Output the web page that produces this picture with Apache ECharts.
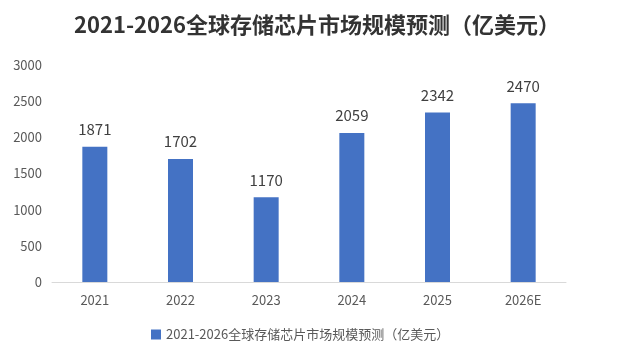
<!DOCTYPE html>
<html><head><meta charset="utf-8">
<script src="https://cdn.jsdelivr.net/npm/echarts@6/dist/echarts.min.js"></script>
<style>html,body{margin:0;padding:0;background:#fff}#c{width:634px;height:360px}</style>
</head><body><div id="c"></div>
<script>
const categories = ['2021','2022','2023','2024','2025','2026E'];
const values = [1871, 1702, 1170, 2059, 2342, 2470];
const seriesName = '2021-2026全球存储芯片市场规模预测（亿美元）';
const titleText = '2021-2026全球存储芯片市场规模预测（亿美元）';
const chart = echarts.init(document.getElementById('c'));
chart.setOption({
  animation: false,
  textStyle: {fontFamily: '"Noto Sans CJK SC", "Noto Sans", sans-serif'},
  title: {text: titleText, left: 'center', top: 9,
    textStyle: {fontSize: 22, fontWeight: 'bold', color: '#333333', fontFamily: '"Noto Sans CJK SC", sans-serif'}},
  legend: {bottom: 14, left: 146, itemWidth: 10, itemHeight: 10, itemGap: 5,
    icon: 'rect', textStyle: {fontSize: 13, color: '#595959'}, data: [seriesName]},
  grid: {left: 52, right: 68, top: 65, bottom: 78, containLabel: false},
  xAxis: {type: 'category', data: categories,
    axisLine: {lineStyle: {color: '#d9d9d9'}}, axisTick: {show: false},
    axisLabel: {color: '#595959', fontSize: 13, margin: 12}},
  yAxis: {type: 'value', min: 0, max: 3000, interval: 500,
    axisLine: {show: false}, axisTick: {show: false}, splitLine: {show: false},
    axisLabel: {color: '#595959', fontSize: 13, margin: 10, formatter: v => String(v)}},
  series: [{name: seriesName, type: 'bar', data: values, barWidth: 25,
    itemStyle: {color: '#4472C4'},
    label: {show: true, position: 'top', distance: 10, fontSize: 15, color: '#404040'}}]
});
</script></body></html>
